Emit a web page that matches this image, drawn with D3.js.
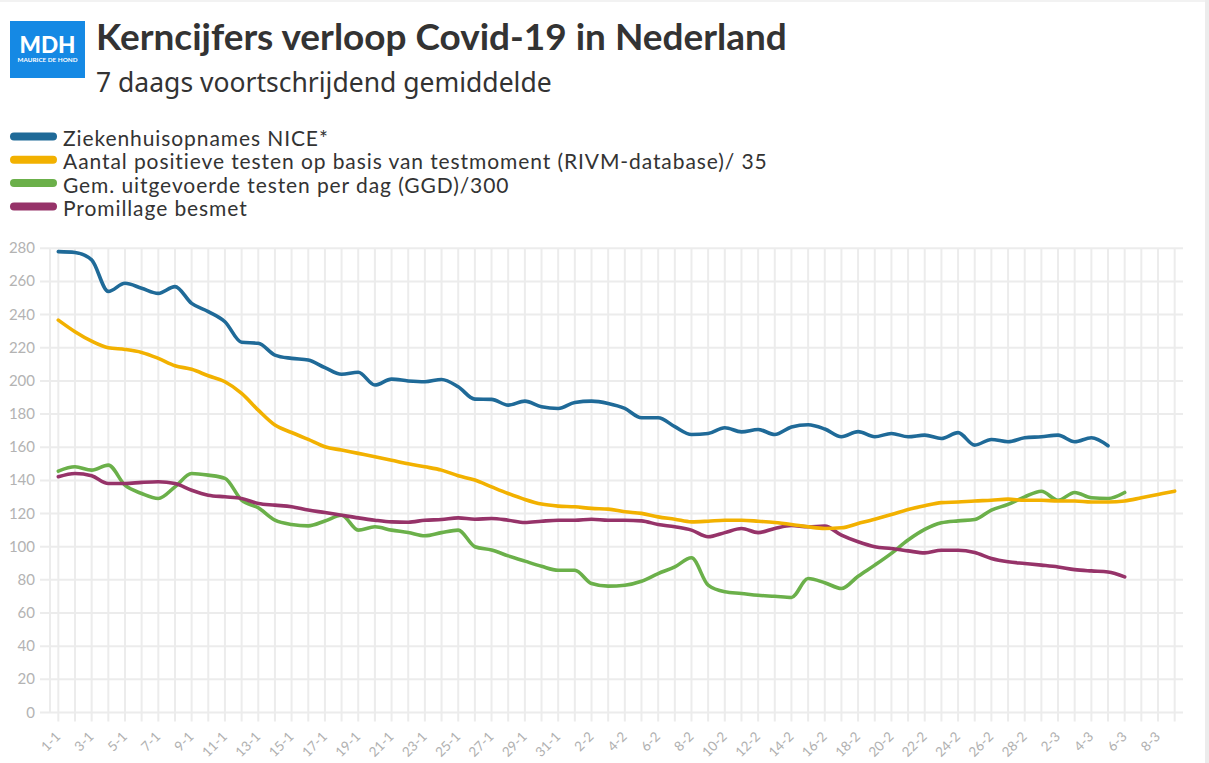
<!DOCTYPE html>
<html><head><meta charset="utf-8">
<script src="https://cdn.jsdelivr.net/npm/d3@7"></script>
<style>html,body{margin:0;padding:0;background:#fff;overflow:hidden}svg{display:block}</style>
</head><body>
<svg id="c" width="1209" height="763"></svg>
<script>
const days = [];
for (let d = 1; d <= 31; d++) days.push(d + "-1");
for (let d = 1; d <= 28; d++) days.push(d + "-2");
for (let d = 1; d <= 9; d++) days.push(d + "-3");

const tickLabels = days.filter((d, i) => i % 2 === 0);
const yTicks = [0,20,40,60,80,100,120,140,160,180,200,220,240,260,280];

const ziekenhuis = [278,277.5,273,254,258.9,255.9,252.8,256.9,246.8,241.8,235.7,223.3,222.7,215.6,213.6,212.6,208,204,205.2,197.5,201.1,200,199.5,200.9,196.5,189,188.9,185.4,187.8,184.4,183.4,187,187.8,186.4,183.4,177.8,177.8,172.4,167.7,168.3,171.8,169.3,170.7,167.7,172.2,173.6,171,166.3,169.4,166.3,168.3,166.3,167.3,165.3,168.8,161.3,164.7,163.3,165.7,166.3,167.3,163.3,165.7,160.9];
const positief = [236.7,229.7,224,220,219,217.2,213.6,209.2,207,203.1,199.5,192.5,182.4,173.4,168.9,164.7,160.3,158.3,156.3,154.3,152.2,150,148.2,146.2,142.8,140.2,136.1,132.1,128.5,125.7,124.5,124.1,123.1,122.7,121.1,120.1,118,116.6,115,115.4,116,116,115.4,114.6,113.4,112,111,111.4,114,116.6,119.4,122.4,124.7,126.6,127,127.6,128,128.7,128,128,127.6,127.6,127,127,127.6,129.5,131.5,133.5];
const testen = [145.6,148.2,146.2,149.2,137.1,132.1,129.1,136.1,144.2,143.2,141.2,128.1,123.5,116,113.4,112.6,115.5,119,110,112,110,108.6,106.6,108.5,110,100,98,94.5,91.3,88.2,85.8,85.8,77.8,76.2,76.8,79.2,83.8,87.8,93.3,76.8,72.8,71.8,70.7,70.1,69.4,80.8,78.3,74.8,82.2,88.9,96,104,110.4,114.4,115.6,116.4,122.1,125.5,130.1,133.5,128,132.7,129.5,129.1,132.7];
const promillage = [142.2,144.2,142.8,138.1,138.1,138.8,139.2,138.1,134.1,131.1,130.1,129.1,126.1,125.1,124.1,122.1,120.6,119,117.4,116,115,114.8,116,116.4,117.4,116.6,117,116,114.6,115.4,116,116,116.6,116,116,115.6,113.4,112,110,106,108.5,111,108.5,111,112.8,112,112.4,107,103,100,98.9,97.5,96.3,97.9,97.9,96.5,92.9,90.9,89.9,88.9,87.8,86.2,85.4,84.8,81.8];

const seriesNames = ["Ziekenhuisopnames NICE*","Aantal positieve testen op basis van testmoment (RIVM-database)/ 35","Gem. uitgevoerde testen per dag (GGD)/300","Promillage besmet"];
const seriesColors = ["#1f6a98","#f2b100","#6bb04a","#963369"];
const seriesData = [ziekenhuis, positief, testen, promillage];

const svg = d3.select("#c");
const FONT = "'Lato','Noto Sans',sans-serif";
const FONT2 = "'Noto Sans','Lato',sans-serif";

// page frame
svg.append("rect").attr("x",0).attr("y",0).attr("width",1209).attr("height",2).attr("fill","#f2f2f2");
svg.append("rect").attr("x",1205).attr("y",0).attr("width",4).attr("height",763).attr("fill","#ececec");

function fitText(sel, target) {
  const w = sel.node().getComputedTextLength();
  const fs = parseFloat(sel.attr("font-size"));
  sel.attr("font-size", fs * target / w);
}

// logo
svg.append("rect").attr("x",10).attr("y",21).attr("width",75).attr("height",57).attr("fill","#1589e4");
const mdh = svg.append("text").attr("x",47.5).attr("y",52.5).attr("text-anchor","middle")
  .attr("font-family","'Lato',sans-serif").attr("font-weight",900).attr("font-size",22).attr("fill","#fff").text("MDH");
fitText(mdh, 56);
const mh = svg.append("text").attr("x",47.5).attr("y",62).attr("text-anchor","middle")
  .attr("font-family","'Lato',sans-serif").attr("font-weight",700).attr("font-size",5).attr("fill","#fff").text("MAURICE DE HOND");
fitText(mh, 60);

// titles
const t1 = svg.append("text").attr("x",96).attr("y",50).attr("font-family",FONT).attr("font-weight",700)
  .attr("font-size",33).attr("fill","#333").text("Kerncijfers verloop Covid-19 in Nederland");
fitText(t1, 691);
const t2 = svg.append("text").attr("x",96).attr("y",92).attr("font-family",FONT2).attr("font-weight",400)
  .attr("font-size",24).attr("fill","#333").text("7 daags voortschrijdend gemiddelde");
fitText(t2, 456);

// legend
const legendT = [];
seriesNames.forEach((n, i) => {
  const yb = 146 + 23.3 * i;
  svg.append("line").attr("x1",14).attr("x2",53).attr("y1",yb-9.5).attr("y2",yb-9.5)
    .attr("stroke",seriesColors[i]).attr("stroke-width",8).attr("stroke-linecap","round");
  const t = svg.append("text").attr("x",63).attr("y",yb).attr("font-family",FONT)
    .attr("font-size",21).attr("fill","#333").text(n);
  legendT.push(t);
});
const lw = legendT[1].node().getComputedTextLength();
const ls = (705 - lw) / seriesNames[1].length;
legendT.forEach(t => t.attr("letter-spacing", ls));

// scales
const x = d3.scaleBand().domain(days).range([50, 1183]);
const cx = d => x(d) + x.bandwidth() / 2;
const y = d3.scaleLinear().domain([0, 280]).range([712.5, 248.3]);

// grid
const g = svg.append("g");
g.selectAll(".hg").data(yTicks).join("line").attr("x1",40).attr("x2",1183)
  .attr("y1",d=>y(d)).attr("y2",d=>y(d)).attr("stroke","#ececec").attr("stroke-width",2);
g.append("line").attr("x1",50).attr("x2",50).attr("y1",y(280)).attr("y2",y(0)).attr("stroke","#ececec").attr("stroke-width",2);
g.selectAll(".vg").data(days).join("line").attr("x1",d=>cx(d)).attr("x2",d=>cx(d))
  .attr("y1",y(280)).attr("y2",y(0)+9).attr("stroke","#ececec").attr("stroke-width",2);

// y axis labels
svg.selectAll(".yl").data(yTicks).join("text").attr("x",35).attr("y",d=>y(d)+5)
  .attr("text-anchor","end").attr("font-family",FONT).attr("font-size",15).attr("fill","#b3b3b3").text(d=>d);

// x axis labels
svg.selectAll(".xl").data(tickLabels).join("text")
  .attr("transform", d => `translate(${cx(d)+3},${y(0)+25}) rotate(-45)`)
  .attr("text-anchor","end").attr("font-family",FONT).attr("font-size",13.5).attr("fill","#b0b0b0").text(d=>d);

// lines
const line = d3.line().x((v,i)=>cx(days[i])).y(v=>y(v)).curve(d3.curveMonotoneX);
[2,3,1,0].forEach(k => {
  svg.append("path").attr("d", line(seriesData[k])).attr("fill","none")
    .attr("stroke", seriesColors[k]).attr("stroke-width",3.6).attr("stroke-linejoin","round").attr("stroke-linecap","round");
});
</script>
</body></html>
